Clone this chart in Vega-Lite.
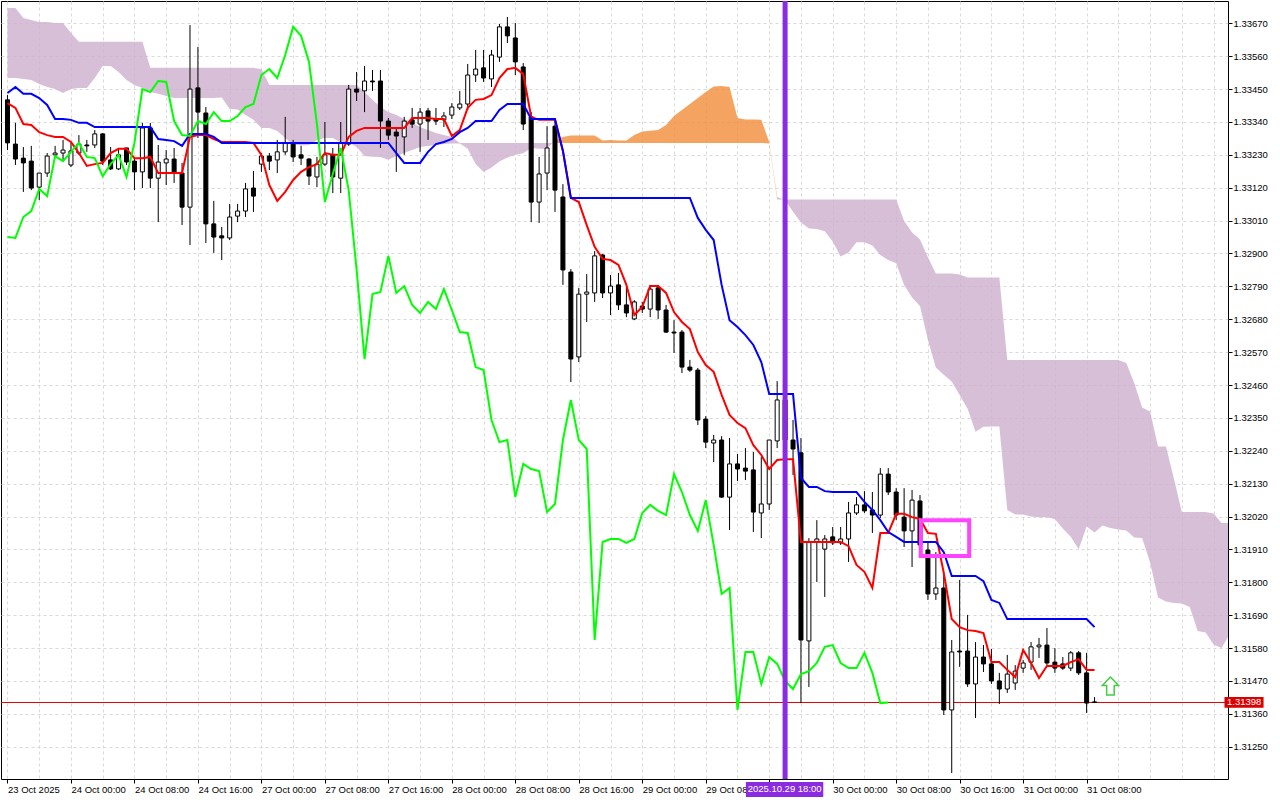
{
"$schema": "https://vega.github.io/schema/vega-lite/v6.json",
"width": 1227, "height": 778,
"autosize": "none",
"padding": {"left": 1, "top": 1, "right": 52, "bottom": 21},
"background": "#ffffff",
"config": {"view": {"stroke": "#000000", "strokeWidth": 1}, "axis": {"labelOverlap": false, "labelFlush": false, "labelBound": false}},
"datasets": {
"bars": [
{"k":-8,"o":1.33414,"h":1.33430,"l":1.33246,"c":1.33270,"t":1.33403,"kj":1.33437,"ch":1.32955},
{"k":-7,"o":1.33266,"h":1.33337,"l":1.33196,"c":1.33216,"t":1.33387,"kj":1.33457,"ch":1.32952},
{"k":-6,"o":1.33219,"h":1.33256,"l":1.33106,"c":1.33203,"t":1.33333,"kj":1.33434,"ch":1.33022},
{"k":-5,"o":1.33209,"h":1.33260,"l":1.33112,"c":1.33119,"t":1.33330,"kj":1.33434,"ch":1.33042},
{"k":-4,"o":1.33122,"h":1.33169,"l":1.33079,"c":1.33169,"t":1.33306,"kj":1.33420,"ch":1.33116},
{"k":-3,"o":1.33169,"h":1.33236,"l":1.33156,"c":1.33226,"t":1.33296,"kj":1.33397,"ch":1.33092},
{"k":-2,"o":1.33230,"h":1.33260,"l":1.33219,"c":1.33236,"t":1.33290,"kj":1.33350,"ch":1.33226},
{"k":-1,"o":1.33236,"h":1.33280,"l":1.33213,"c":1.33246,"t":1.33290,"kj":1.33350,"ch":1.33209},
{"k":0,"o":1.33196,"h":1.33270,"l":1.33189,"c":1.33243,"t":1.33273,"kj":1.33347,"ch":1.33240},
{"k":1,"o":1.33236,"h":1.33296,"l":1.33230,"c":1.33266,"t":1.33236,"kj":1.33337,"ch":1.33270},
{"k":2,"o":1.33263,"h":1.33280,"l":1.33240,"c":1.33260,"t":1.33193,"kj":1.33337,"ch":1.33223},
{"k":3,"o":1.33263,"h":1.33313,"l":1.33253,"c":1.33300,"t":1.33199,"kj":1.33323,"ch":1.33219},
{"k":4,"o":1.33300,"h":1.33303,"l":1.33196,"c":1.33209,"t":1.33203,"kj":1.33323,"ch":1.33159},
{"k":5,"o":1.33213,"h":1.33256,"l":1.33179,"c":1.33183,"t":1.33236,"kj":1.33323,"ch":1.33199},
{"k":6,"o":1.33183,"h":1.33253,"l":1.33179,"c":1.33230,"t":1.33250,"kj":1.33323,"ch":1.33230},
{"k":7,"o":1.33253,"h":1.33253,"l":1.33196,"c":1.33206,"t":1.33250,"kj":1.33323,"ch":1.33156},
{"k":8,"o":1.33209,"h":1.33223,"l":1.33112,"c":1.33173,"t":1.33219,"kj":1.33323,"ch":1.33270},
{"k":9,"o":1.33173,"h":1.33337,"l":1.33119,"c":1.33320,"t":1.33219,"kj":1.33323,"ch":1.33450},
{"k":10,"o":1.33320,"h":1.33337,"l":1.33119,"c":1.33152,"t":1.33223,"kj":1.33323,"ch":1.33440},
{"k":11,"o":1.33152,"h":1.33263,"l":1.33005,"c":1.33206,"t":1.33169,"kj":1.33283,"ch":1.33477},
{"k":12,"o":1.33203,"h":1.33246,"l":1.33129,"c":1.33216,"t":1.33169,"kj":1.33280,"ch":1.33474},
{"k":13,"o":1.33216,"h":1.33253,"l":1.33136,"c":1.33169,"t":1.33169,"kj":1.33276,"ch":1.33343},
{"k":14,"o":1.33169,"h":1.33203,"l":1.32995,"c":1.33055,"t":1.33169,"kj":1.33260,"ch":1.33296},
{"k":15,"o":1.33055,"h":1.33664,"l":1.32928,"c":1.33450,"t":1.33290,"kj":1.33300,"ch":1.33293},
{"k":16,"o":1.33454,"h":1.33591,"l":1.33286,"c":1.33373,"t":1.33296,"kj":1.33300,"ch":1.33343},
{"k":17,"o":1.33370,"h":1.33390,"l":1.32935,"c":1.32999,"t":1.33296,"kj":1.33300,"ch":1.33333},
{"k":18,"o":1.32999,"h":1.33076,"l":1.32902,"c":1.32955,"t":1.33283,"kj":1.33290,"ch":1.33373},
{"k":19,"o":1.32959,"h":1.32989,"l":1.32878,"c":1.32952,"t":1.33273,"kj":1.33270,"ch":1.33343},
{"k":20,"o":1.32952,"h":1.33066,"l":1.32945,"c":1.33022,"t":1.33273,"kj":1.33270,"ch":1.33343},
{"k":21,"o":1.33025,"h":1.33066,"l":1.33005,"c":1.33042,"t":1.33273,"kj":1.33270,"ch":1.33360},
{"k":22,"o":1.33042,"h":1.33136,"l":1.33022,"c":1.33116,"t":1.33273,"kj":1.33270,"ch":1.33390},
{"k":23,"o":1.33119,"h":1.33176,"l":1.33039,"c":1.33092,"t":1.33270,"kj":1.33270,"ch":1.33400},
{"k":24,"o":1.33199,"h":1.33236,"l":1.33173,"c":1.33226,"t":1.33230,"kj":1.33270,"ch":1.33497},
{"k":25,"o":1.33226,"h":1.33236,"l":1.33179,"c":1.33209,"t":1.33129,"kj":1.33270,"ch":1.33517},
{"k":26,"o":1.33213,"h":1.33280,"l":1.33169,"c":1.33240,"t":1.33076,"kj":1.33270,"ch":1.33487},
{"k":27,"o":1.33240,"h":1.33357,"l":1.33230,"c":1.33270,"t":1.33106,"kj":1.33270,"ch":1.33564},
{"k":28,"o":1.33266,"h":1.33280,"l":1.33206,"c":1.33223,"t":1.33146,"kj":1.33270,"ch":1.33658},
{"k":29,"o":1.33230,"h":1.33260,"l":1.33196,"c":1.33219,"t":1.33173,"kj":1.33270,"ch":1.33628},
{"k":30,"o":1.33216,"h":1.33219,"l":1.33129,"c":1.33159,"t":1.33189,"kj":1.33270,"ch":1.33541},
{"k":31,"o":1.33156,"h":1.33223,"l":1.33122,"c":1.33199,"t":1.33199,"kj":1.33270,"ch":1.33333},
{"k":32,"o":1.33199,"h":1.33340,"l":1.33193,"c":1.33230,"t":1.33236,"kj":1.33270,"ch":1.33072},
{"k":33,"o":1.33230,"h":1.33253,"l":1.33102,"c":1.33156,"t":1.33230,"kj":1.33270,"ch":1.33166},
{"k":34,"o":1.33152,"h":1.33340,"l":1.33102,"c":1.33270,"t":1.33230,"kj":1.33270,"ch":1.33253},
{"k":35,"o":1.33266,"h":1.33464,"l":1.33260,"c":1.33450,"t":1.33290,"kj":1.33270,"ch":1.33112},
{"k":36,"o":1.33450,"h":1.33507,"l":1.33410,"c":1.33440,"t":1.33310,"kj":1.33270,"ch":1.32845},
{"k":37,"o":1.33444,"h":1.33527,"l":1.33373,"c":1.33477,"t":1.33320,"kj":1.33270,"ch":1.32547},
{"k":38,"o":1.33477,"h":1.33514,"l":1.33444,"c":1.33474,"t":1.33320,"kj":1.33270,"ch":1.32764},
{"k":39,"o":1.33477,"h":1.33514,"l":1.33253,"c":1.33343,"t":1.33320,"kj":1.33270,"ch":1.32771},
{"k":40,"o":1.33343,"h":1.33353,"l":1.33280,"c":1.33296,"t":1.33320,"kj":1.33270,"ch":1.32892},
{"k":41,"o":1.33306,"h":1.33323,"l":1.33173,"c":1.33293,"t":1.33320,"kj":1.33236,"ch":1.32768},
{"k":42,"o":1.33290,"h":1.33357,"l":1.33230,"c":1.33343,"t":1.33320,"kj":1.33203,"ch":1.32791},
{"k":43,"o":1.33347,"h":1.33387,"l":1.33320,"c":1.33333,"t":1.33353,"kj":1.33203,"ch":1.32728},
{"k":44,"o":1.33333,"h":1.33387,"l":1.33240,"c":1.33373,"t":1.33353,"kj":1.33203,"ch":1.32701},
{"k":45,"o":1.33377,"h":1.33387,"l":1.33280,"c":1.33343,"t":1.33353,"kj":1.33240,"ch":1.32738},
{"k":46,"o":1.33350,"h":1.33387,"l":1.33330,"c":1.33343,"t":1.33350,"kj":1.33266,"ch":1.32714},
{"k":47,"o":1.33347,"h":1.33373,"l":1.33323,"c":1.33360,"t":1.33350,"kj":1.33273,"ch":1.32781},
{"k":48,"o":1.33363,"h":1.33403,"l":1.33350,"c":1.33390,"t":1.33293,"kj":1.33283,"ch":1.32711},
{"k":49,"o":1.33387,"h":1.33444,"l":1.33380,"c":1.33400,"t":1.33313,"kj":1.33306,"ch":1.32637},
{"k":50,"o":1.33400,"h":1.33534,"l":1.33380,"c":1.33497,"t":1.33387,"kj":1.33320,"ch":1.32634},
{"k":51,"o":1.33497,"h":1.33581,"l":1.33474,"c":1.33517,"t":1.33414,"kj":1.33343,"ch":1.32520},
{"k":52,"o":1.33521,"h":1.33581,"l":1.33474,"c":1.33487,"t":1.33417,"kj":1.33343,"ch":1.32510},
{"k":53,"o":1.33484,"h":1.33581,"l":1.33457,"c":1.33564,"t":1.33430,"kj":1.33343,"ch":1.32343},
{"k":54,"o":1.33557,"h":1.33668,"l":1.33541,"c":1.33658,"t":1.33487,"kj":1.33380,"ch":1.32269},
{"k":55,"o":1.33658,"h":1.33691,"l":1.33604,"c":1.33628,"t":1.33517,"kj":1.33400,"ch":1.32276},
{"k":56,"o":1.33621,"h":1.33671,"l":1.33497,"c":1.33541,"t":1.33521,"kj":1.33400,"ch":1.32085},
{"k":57,"o":1.33524,"h":1.33537,"l":1.33313,"c":1.33333,"t":1.33500,"kj":1.33400,"ch":1.32196},
{"k":58,"o":1.33357,"h":1.33373,"l":1.33005,"c":1.33072,"t":1.33357,"kj":1.33350,"ch":1.32179},
{"k":59,"o":1.33072,"h":1.33223,"l":1.33002,"c":1.33166,"t":1.33347,"kj":1.33350,"ch":1.32172},
{"k":60,"o":1.33169,"h":1.33326,"l":1.33112,"c":1.33253,"t":1.33347,"kj":1.33350,"ch":1.32035},
{"k":61,"o":1.33326,"h":1.33347,"l":1.33039,"c":1.33112,"t":1.33347,"kj":1.33350,"ch":1.32062},
{"k":62,"o":1.33089,"h":1.33132,"l":1.32795,"c":1.32845,"t":1.33243,"kj":1.33243,"ch":1.32276},
{"k":63,"o":1.32838,"h":1.32848,"l":1.32470,"c":1.32547,"t":1.33086,"kj":1.33086,"ch":1.32410},
{"k":64,"o":1.32554,"h":1.32785,"l":1.32537,"c":1.32764,"t":1.33072,"kj":1.33086,"ch":1.32276},
{"k":65,"o":1.32764,"h":1.32831,"l":1.32671,"c":1.32771,"t":1.32995,"kj":1.33086,"ch":1.32246},
{"k":66,"o":1.32768,"h":1.32908,"l":1.32738,"c":1.32892,"t":1.32922,"kj":1.33086,"ch":1.31607},
{"k":67,"o":1.32895,"h":1.32898,"l":1.32751,"c":1.32768,"t":1.32882,"kj":1.33086,"ch":1.31935},
{"k":68,"o":1.32768,"h":1.32828,"l":1.32694,"c":1.32791,"t":1.32878,"kj":1.33086,"ch":1.31945},
{"k":69,"o":1.32795,"h":1.32835,"l":1.32711,"c":1.32728,"t":1.32862,"kj":1.33086,"ch":1.31945},
{"k":70,"o":1.32728,"h":1.32788,"l":1.32687,"c":1.32701,"t":1.32795,"kj":1.33086,"ch":1.31932},
{"k":71,"o":1.32681,"h":1.32744,"l":1.32677,"c":1.32738,"t":1.32694,"kj":1.33086,"ch":1.31945},
{"k":72,"o":1.32724,"h":1.32738,"l":1.32701,"c":1.32714,"t":1.32721,"kj":1.33086,"ch":1.32032},
{"k":73,"o":1.32714,"h":1.32795,"l":1.32687,"c":1.32781,"t":1.32791,"kj":1.33086,"ch":1.32059},
{"k":74,"o":1.32785,"h":1.32795,"l":1.32681,"c":1.32711,"t":1.32791,"kj":1.33086,"ch":1.32039},
{"k":75,"o":1.32711,"h":1.32728,"l":1.32634,"c":1.32637,"t":1.32768,"kj":1.33086,"ch":1.32025},
{"k":76,"o":1.32637,"h":1.32677,"l":1.32567,"c":1.32634,"t":1.32704,"kj":1.33086,"ch":1.32162},
{"k":77,"o":1.32637,"h":1.32644,"l":1.32500,"c":1.32520,"t":1.32671,"kj":1.33086,"ch":1.32102},
{"k":78,"o":1.32520,"h":1.32544,"l":1.32504,"c":1.32510,"t":1.32647,"kj":1.33086,"ch":1.32025},
{"k":79,"o":1.32510,"h":1.32517,"l":1.32326,"c":1.32343,"t":1.32570,"kj":1.33019,"ch":1.31972},
{"k":80,"o":1.32346,"h":1.32356,"l":1.32249,"c":1.32269,"t":1.32527,"kj":1.32979,"ch":1.32075},
{"k":81,"o":1.32266,"h":1.32293,"l":1.32202,"c":1.32276,"t":1.32504,"kj":1.32945,"ch":1.31925},
{"k":82,"o":1.32276,"h":1.32289,"l":1.32082,"c":1.32085,"t":1.32427,"kj":1.32795,"ch":1.31761},
{"k":83,"o":1.32085,"h":1.32283,"l":1.31975,"c":1.32196,"t":1.32360,"kj":1.32677,"ch":1.31781},
{"k":84,"o":1.32196,"h":1.32229,"l":1.32139,"c":1.32179,"t":1.32333,"kj":1.32654,"ch":1.31373},
{"k":85,"o":1.32182,"h":1.32249,"l":1.32142,"c":1.32172,"t":1.32316,"kj":1.32627,"ch":1.31567},
{"k":86,"o":1.32176,"h":1.32236,"l":1.31968,"c":1.32035,"t":1.32259,"kj":1.32594,"ch":1.31567},
{"k":87,"o":1.32032,"h":1.32219,"l":1.31948,"c":1.32062,"t":1.32226,"kj":1.32537,"ch":1.31460},
{"k":88,"o":1.32062,"h":1.32276,"l":1.32042,"c":1.32276,"t":1.32179,"kj":1.32430,"ch":1.31550},
{"k":89,"o":1.32273,"h":1.32473,"l":1.32249,"c":1.32410,"t":1.32209,"kj":1.32430,"ch":1.31527},
{"k":90,"o":1.32410,"h":1.32427,"l":1.32243,"c":1.32276,"t":1.32212,"kj":1.32430,"ch":1.31470},
{"k":91,"o":1.32276,"h":1.32343,"l":1.32159,"c":1.32246,"t":1.32212,"kj":1.32430,"ch":1.31443},
{"k":92,"o":1.32233,"h":1.32283,"l":1.31396,"c":1.31607,"t":1.31935,"kj":1.32149,"ch":1.31493},
{"k":93,"o":1.31604,"h":1.31948,"l":1.31450,"c":1.31935,"t":1.31935,"kj":1.32119,"ch":1.31503},
{"k":94,"o":1.31935,"h":1.32008,"l":1.31801,"c":1.31945,"t":1.31935,"kj":1.32119,"ch":1.31530},
{"k":95,"o":1.31911,"h":1.31958,"l":1.31751,"c":1.31945,"t":1.31935,"kj":1.32105,"ch":1.31584},
{"k":96,"o":1.31952,"h":1.31985,"l":1.31925,"c":1.31932,"t":1.31935,"kj":1.32102,"ch":1.31590},
{"k":97,"o":1.31932,"h":1.31985,"l":1.31925,"c":1.31945,"t":1.31935,"kj":1.32102,"ch":1.31530},
{"k":98,"o":1.31945,"h":1.32069,"l":1.31868,"c":1.32032,"t":1.31921,"kj":1.32102,"ch":1.31513},
{"k":99,"o":1.32032,"h":1.32085,"l":1.32025,"c":1.32059,"t":1.31858,"kj":1.32102,"ch":1.31513},
{"k":100,"o":1.32059,"h":1.32105,"l":1.32032,"c":1.32039,"t":1.31835,"kj":1.32069,"ch":1.31564},
{"k":101,"o":1.32042,"h":1.32102,"l":1.31965,"c":1.32025,"t":1.31781,"kj":1.32042,"ch":1.31497},
{"k":102,"o":1.32025,"h":1.32182,"l":1.32015,"c":1.32162,"t":1.31965,"kj":1.32008,"ch":1.31396},
{"k":103,"o":1.32162,"h":1.32182,"l":1.32092,"c":1.32102,"t":1.31965,"kj":1.31968,"ch":1.31398},
{"k":104,"o":1.32102,"h":1.32115,"l":1.32008,"c":1.32025,"t":1.32029,"kj":1.31952},
{"k":105,"o":1.32018,"h":1.32115,"l":1.31918,"c":1.31972,"t":1.32029,"kj":1.31935},
{"k":106,"o":1.31972,"h":1.32109,"l":1.31851,"c":1.32075,"t":1.32018,"kj":1.31935},
{"k":107,"o":1.32072,"h":1.32092,"l":1.31901,"c":1.31925,"t":1.32012,"kj":1.31935},
{"k":108,"o":1.31908,"h":1.31932,"l":1.31741,"c":1.31761,"t":1.31965,"kj":1.31935},
{"k":109,"o":1.31761,"h":1.31901,"l":1.31741,"c":1.31781,"t":1.31962,"kj":1.31935},
{"k":110,"o":1.31781,"h":1.31824,"l":1.31356,"c":1.31373,"t":1.31831,"kj":1.31901},
{"k":111,"o":1.31373,"h":1.31607,"l":1.31162,"c":1.31567,"t":1.31677,"kj":1.31821},
{"k":112,"o":1.31570,"h":1.31808,"l":1.31517,"c":1.31567,"t":1.31650,"kj":1.31821},
{"k":113,"o":1.31570,"h":1.31691,"l":1.31450,"c":1.31460,"t":1.31640,"kj":1.31821},
{"k":114,"o":1.31460,"h":1.31600,"l":1.31346,"c":1.31550,"t":1.31637,"kj":1.31821},
{"k":115,"o":1.31550,"h":1.31590,"l":1.31500,"c":1.31527,"t":1.31630,"kj":1.31804},
{"k":116,"o":1.31527,"h":1.31577,"l":1.31460,"c":1.31470,"t":1.31533,"kj":1.31741},
{"k":117,"o":1.31470,"h":1.31497,"l":1.31393,"c":1.31443,"t":1.31533,"kj":1.31731},
{"k":118,"o":1.31443,"h":1.31557,"l":1.31430,"c":1.31493,"t":1.31507,"kj":1.31677},
{"k":119,"o":1.31463,"h":1.31523,"l":1.31440,"c":1.31503,"t":1.31483,"kj":1.31677},
{"k":120,"o":1.31513,"h":1.31540,"l":1.31497,"c":1.31530,"t":1.31574,"kj":1.31677},
{"k":121,"o":1.31533,"h":1.31600,"l":1.31507,"c":1.31584,"t":1.31530,"kj":1.31677},
{"k":122,"o":1.31584,"h":1.31614,"l":1.31547,"c":1.31590,"t":1.31480,"kj":1.31677},
{"k":123,"o":1.31590,"h":1.31647,"l":1.31523,"c":1.31530,"t":1.31520,"kj":1.31677},
{"k":124,"o":1.31533,"h":1.31580,"l":1.31497,"c":1.31513,"t":1.31520,"kj":1.31677},
{"k":125,"o":1.31527,"h":1.31550,"l":1.31507,"c":1.31513,"t":1.31520,"kj":1.31677},
{"k":126,"o":1.31513,"h":1.31570,"l":1.31503,"c":1.31564,"t":1.31533,"kj":1.31677},
{"k":127,"o":1.31564,"h":1.31570,"l":1.31490,"c":1.31497,"t":1.31543,"kj":1.31677},
{"k":128,"o":1.31497,"h":1.31564,"l":1.31363,"c":1.31396,"t":1.31507,"kj":1.31677},
{"k":129,"o":1.31400,"h":1.31416,"l":1.31396,"c":1.31398,"t":1.31507,"kj":1.31650}
],
"cloud": [
{"k":-8,"b":1.33721,"a":1.33487,"phase":"p1"},
{"k":-7,"b":1.33721,"a":1.33487,"phase":"p1"},
{"k":-6,"b":1.33688,"a":1.33484,"phase":"p1"},
{"k":-5,"b":1.33681,"a":1.33480,"phase":"p1"},
{"k":-4,"b":1.33674,"a":1.33467,"phase":"p1"},
{"k":-3,"b":1.33674,"a":1.33457,"phase":"p1"},
{"k":-2,"b":1.33671,"a":1.33450,"phase":"p1"},
{"k":-1,"b":1.33671,"a":1.33437,"phase":"p1"},
{"k":0,"b":1.33638,"a":1.33450,"phase":"p1"},
{"k":1,"b":1.33608,"a":1.33454,"phase":"p1"},
{"k":2,"b":1.33608,"a":1.33454,"phase":"p1"},
{"k":3,"b":1.33608,"a":1.33487,"phase":"p1"},
{"k":4,"b":1.33608,"a":1.33527,"phase":"p1"},
{"k":5,"b":1.33608,"a":1.33527,"phase":"p1"},
{"k":6,"b":1.33608,"a":1.33507,"phase":"p1"},
{"k":7,"b":1.33608,"a":1.33480,"phase":"p1"},
{"k":8,"b":1.33608,"a":1.33464,"phase":"p1"},
{"k":9,"b":1.33608,"a":1.33454,"phase":"p1"},
{"k":10,"b":1.33521,"a":1.33440,"phase":"p1"},
{"k":11,"b":1.33521,"a":1.33434,"phase":"p1"},
{"k":12,"b":1.33521,"a":1.33427,"phase":"p1"},
{"k":13,"b":1.33521,"a":1.33420,"phase":"p1"},
{"k":14,"b":1.33521,"a":1.33420,"phase":"p1"},
{"k":15,"b":1.33521,"a":1.33420,"phase":"p1"},
{"k":16,"b":1.33521,"a":1.33420,"phase":"p1"},
{"k":17,"b":1.33521,"a":1.33420,"phase":"p1"},
{"k":18,"b":1.33521,"a":1.33420,"phase":"p1"},
{"k":19,"b":1.33521,"a":1.33422,"phase":"p1"},
{"k":20,"b":1.33521,"a":1.33383,"phase":"p1"},
{"k":21,"b":1.33521,"a":1.33382,"phase":"p1"},
{"k":22,"b":1.33521,"a":1.33363,"phase":"p1"},
{"k":23,"b":1.33521,"a":1.33347,"phase":"p1"},
{"k":24,"b":1.33517,"a":1.33320,"phase":"p1"},
{"k":25,"b":1.33464,"a":1.33320,"phase":"p1"},
{"k":26,"b":1.33464,"a":1.33310,"phase":"p1"},
{"k":27,"b":1.33464,"a":1.33286,"phase":"p1"},
{"k":28,"b":1.33464,"a":1.33265,"phase":"p1"},
{"k":29,"b":1.33464,"a":1.33261,"phase":"p1"},
{"k":30,"b":1.33464,"a":1.33263,"phase":"p1"},
{"k":31,"b":1.33464,"a":1.33280,"phase":"p1"},
{"k":32,"b":1.33464,"a":1.33286,"phase":"p1"},
{"k":33,"b":1.33464,"a":1.33286,"phase":"p1"},
{"k":34,"b":1.33464,"a":1.33271,"phase":"p1"},
{"k":35,"b":1.33464,"a":1.33271,"phase":"p1"},
{"k":36,"b":1.33464,"a":1.33256,"phase":"p1"},
{"k":37,"b":1.33440,"a":1.33226,"phase":"p1"},
{"k":38,"b":1.33414,"a":1.33224,"phase":"p1"},
{"k":39,"b":1.33390,"a":1.33223,"phase":"p1"},
{"k":40,"b":1.33373,"a":1.33214,"phase":"p1"},
{"k":41,"b":1.33363,"a":1.33226,"phase":"p1"},
{"k":42,"b":1.33350,"a":1.33236,"phase":"p1"},
{"k":43,"b":1.33337,"a":1.33246,"phase":"p1"},
{"k":44,"b":1.33323,"a":1.33256,"phase":"p1"},
{"k":45,"b":1.33313,"a":1.33260,"phase":"p1"},
{"k":46,"b":1.33303,"a":1.33263,"phase":"p1"},
{"k":47,"b":1.33296,"a":1.33266,"phase":"p1"},
{"k":48,"b":1.33290,"a":1.33268,"phase":"p1"},
{"k":49,"b":1.33270,"a":1.33268,"phase":"p1"},
{"k":50,"b":1.33270,"a":1.33250,"phase":"p1"},
{"k":51,"b":1.33270,"a":1.33199,"phase":"p1"},
{"k":52,"b":1.33270,"a":1.33173,"phase":"p1"},
{"k":53,"b":1.33270,"a":1.33188,"phase":"p1"},
{"k":54,"b":1.33270,"a":1.33208,"phase":"p1"},
{"k":55,"b":1.33270,"a":1.33221,"phase":"p1"},
{"k":56,"b":1.33270,"a":1.33230,"phase":"p1"},
{"k":57,"b":1.33270,"a":1.33235,"phase":"p1"},
{"k":58,"b":1.33270,"a":1.33253,"phase":"p1"},
{"k":59,"b":1.33270,"a":1.33250,"phase":"p1"},
{"k":60,"b":1.33270,"a":1.33250,"phase":"p1"},
{"k":61,"b":1.33270,"a":1.33280,"phase":"p1"},
{"k":61,"b":1.33270,"a":1.33280,"phase":"p2"},
{"k":62,"b":1.33270,"a":1.33290,"phase":"p2"},
{"k":63,"b":1.33270,"a":1.33295,"phase":"p2"},
{"k":64,"b":1.33270,"a":1.33295,"phase":"p2"},
{"k":65,"b":1.33270,"a":1.33295,"phase":"p2"},
{"k":66,"b":1.33270,"a":1.33295,"phase":"p2"},
{"k":67,"b":1.33270,"a":1.33278,"phase":"p2"},
{"k":68,"b":1.33270,"a":1.33280,"phase":"p2"},
{"k":69,"b":1.33270,"a":1.33278,"phase":"p2"},
{"k":70,"b":1.33270,"a":1.33278,"phase":"p2"},
{"k":71,"b":1.33270,"a":1.33296,"phase":"p2"},
{"k":72,"b":1.33270,"a":1.33308,"phase":"p2"},
{"k":73,"b":1.33270,"a":1.33311,"phase":"p2"},
{"k":74,"b":1.33270,"a":1.33313,"phase":"p2"},
{"k":75,"b":1.33270,"a":1.33330,"phase":"p2"},
{"k":76,"b":1.33270,"a":1.33360,"phase":"p2"},
{"k":77,"b":1.33270,"a":1.33380,"phase":"p2"},
{"k":78,"b":1.33270,"a":1.33400,"phase":"p2"},
{"k":79,"b":1.33270,"a":1.33420,"phase":"p2"},
{"k":80,"b":1.33270,"a":1.33440,"phase":"p2"},
{"k":81,"b":1.33270,"a":1.33459,"phase":"p2"},
{"k":82,"b":1.33270,"a":1.33460,"phase":"p2"},
{"k":83,"b":1.33270,"a":1.33457,"phase":"p2"},
{"k":84,"b":1.33270,"a":1.33353,"phase":"p2"},
{"k":85,"b":1.33270,"a":1.33348,"phase":"p2"},
{"k":86,"b":1.33270,"a":1.33348,"phase":"p2"},
{"k":87,"b":1.33270,"a":1.33347,"phase":"p2"},
{"k":88,"b":1.33268,"a":1.33272,"phase":"p2"},
{"k":89,"b":1.33081,"a":1.33089,"phase":"p2"},
{"k":89,"b":1.33081,"a":1.33089,"phase":"p3"},
{"k":90,"b":1.33081,"a":1.33079,"phase":"p3"},
{"k":91,"b":1.33081,"a":1.33040,"phase":"p3"},
{"k":92,"b":1.33081,"a":1.33004,"phase":"p3"},
{"k":93,"b":1.33081,"a":1.32984,"phase":"p3"},
{"k":94,"b":1.33081,"a":1.32982,"phase":"p3"},
{"k":95,"b":1.33081,"a":1.32974,"phase":"p3"},
{"k":96,"b":1.33081,"a":1.32940,"phase":"p3"},
{"k":97,"b":1.33081,"a":1.32890,"phase":"p3"},
{"k":98,"b":1.33081,"a":1.32903,"phase":"p3"},
{"k":99,"b":1.33081,"a":1.32938,"phase":"p3"},
{"k":100,"b":1.33081,"a":1.32938,"phase":"p3"},
{"k":101,"b":1.33081,"a":1.32927,"phase":"p3"},
{"k":102,"b":1.33081,"a":1.32895,"phase":"p3"},
{"k":103,"b":1.33081,"a":1.32878,"phase":"p3"},
{"k":104,"b":1.33081,"a":1.32867,"phase":"p3"},
{"k":105,"b":1.33009,"a":1.32795,"phase":"p3"},
{"k":106,"b":1.32970,"a":1.32753,"phase":"p3"},
{"k":107,"b":1.32947,"a":1.32724,"phase":"p3"},
{"k":108,"b":1.32887,"a":1.32611,"phase":"p3"},
{"k":109,"b":1.32833,"a":1.32519,"phase":"p3"},
{"k":110,"b":1.32833,"a":1.32494,"phase":"p3"},
{"k":111,"b":1.32833,"a":1.32472,"phase":"p3"},
{"k":112,"b":1.32830,"a":1.32427,"phase":"p3"},
{"k":113,"b":1.32820,"a":1.32381,"phase":"p3"},
{"k":114,"b":1.32820,"a":1.32304,"phase":"p3"},
{"k":115,"b":1.32820,"a":1.32320,"phase":"p3"},
{"k":116,"b":1.32820,"a":1.32321,"phase":"p3"},
{"k":117,"b":1.32820,"a":1.32321,"phase":"p3"},
{"k":118,"b":1.32544,"a":1.32042,"phase":"p3"},
{"k":119,"b":1.32544,"a":1.32027,"phase":"p3"},
{"k":120,"b":1.32544,"a":1.32027,"phase":"p3"},
{"k":121,"b":1.32544,"a":1.32020,"phase":"p3"},
{"k":122,"b":1.32544,"a":1.32018,"phase":"p3"},
{"k":123,"b":1.32544,"a":1.32018,"phase":"p3"},
{"k":124,"b":1.32544,"a":1.32012,"phase":"p3"},
{"k":125,"b":1.32544,"a":1.31980,"phase":"p3"},
{"k":126,"b":1.32544,"a":1.31952,"phase":"p3"},
{"k":127,"b":1.32544,"a":1.31911,"phase":"p3"},
{"k":128,"b":1.32544,"a":1.31987,"phase":"p3"},
{"k":129,"b":1.32544,"a":1.31967,"phase":"p3"},
{"k":130,"b":1.32544,"a":1.31990,"phase":"p3"},
{"k":131,"b":1.32544,"a":1.31982,"phase":"p3"},
{"k":132,"b":1.32544,"a":1.31977,"phase":"p3"},
{"k":133,"b":1.32534,"a":1.31973,"phase":"p3"},
{"k":134,"b":1.32467,"a":1.31950,"phase":"p3"},
{"k":135,"b":1.32385,"a":1.31948,"phase":"p3"},
{"k":136,"b":1.32371,"a":1.31866,"phase":"p3"},
{"k":137,"b":1.32254,"a":1.31749,"phase":"p3"},
{"k":138,"b":1.32254,"a":1.31736,"phase":"p3"},
{"k":139,"b":1.32147,"a":1.31731,"phase":"p3"},
{"k":140,"b":1.32035,"a":1.31729,"phase":"p3"},
{"k":141,"b":1.32035,"a":1.31717,"phase":"p3"},
{"k":142,"b":1.32035,"a":1.31637,"phase":"p3"},
{"k":143,"b":1.32035,"a":1.31632,"phase":"p3"},
{"k":144,"b":1.32030,"a":1.31592,"phase":"p3"},
{"k":145,"b":1.31998,"a":1.31580,"phase":"p3"},
{"k":146,"b":1.31998,"a":1.31625,"phase":"p3"}
]
},
"layer": [
{
"data": {"name": "cloud"},
"mark": {"type": "area", "clip": true, "fillOpacity": 0.8, "interpolate": "linear"},
"encoding": {
"x": {"field": "k", "type": "quantitative", "title": null,
 "scale": {"domain": [-8.1875, 145.1875], "nice": false, "zero": false},
 "axis": {"orient": "bottom", "values": [-8,-4,0,4,8,12,16,20,24,28,32,36,40,44,48,52,56,60,64,68,72,76,80,84,88,92,96,100,104,108,112,116,120,124,128,132,136,140,144],
  "tickCount": 200,
  "domain": false, "grid": true, "gridDash": [3,3], "gridColor": "#d9d9d9", "gridWidth": 1,
  "ticks": true, "tickSize": 4, "tickColor": "#000000", "tickWidth": 1,
  "tickOpacity": {"condition": {"test": "datum.value % 8 === 0 && datum.value <= 128", "value": 1}, "value": 0},
  "labelExpr": "(datum.value % 8 === 0 && datum.value <= 128) ? ['23 Oct 2025','24 Oct 00:00','24 Oct 08:00','24 Oct 16:00','27 Oct 00:00','27 Oct 08:00','27 Oct 16:00','28 Oct 00:00','28 Oct 08:00','28 Oct 16:00','29 Oct 00:00','29 Oct 08','','30 Oct 00:00','30 Oct 08:00','30 Oct 16:00','31 Oct 00:00','31 Oct 08:00'][(datum.value + 8) / 8] : ''",
  "labelAlign": "left", "labelBaseline": "top", "labelPadding": 1, "labelOffset": 0,
  "labelFont": "Liberation Sans", "labelFontSize": 9.5, "labelColor": "#000000",
  "labelOverlap": false, "labelFlush": false, "labelBound": false, "title": null}},
"y": {"field": "a", "type": "quantitative", "title": null, "stack": null,
 "scale": {"domain": [1.31142, 1.3374465], "nice": false, "zero": false},
 "axis": {"orient": "right", "values": [1.3125,1.3136,1.3147,1.3158,1.3169,1.318,1.3191,1.3202,1.3213,1.3224,1.3235,1.3246,1.3257,1.3268,1.3279,1.329,1.3301,1.3312,1.3323,1.3334,1.3345,1.3356,1.3367],
  "tickCount": 200,
  "format": ".5f", "domain": false, "grid": true, "gridDash": [3,3], "gridColor": "#d9d9d9",
  "tickSize": 4, "tickColor": "#000000", "labelPadding": 1,
  "labelFont": "Liberation Sans", "labelFontSize": 9.5, "labelColor": "#000000",
  "labelOverlap": false, "labelFlush": false, "labelBound": false, "title": null}},
"y2": {"field": "b"},
"color": {"field": "phase", "type": "nominal", "legend": null,
 "scale": {"domain": ["p1","p2","p3"], "range": ["#ceafce","#f18d38","#ceafce"]}}
}
},
{
"data": {"values": [{}]},
"mark": {"type": "rule", "color": "#e00000", "strokeWidth": 1},
"encoding": {"y": {"datum": 1.31398, "type": "quantitative", "title": null}}
},
{
"data": {"name": "bars"},
"mark": {"type": "rule", "color": "#000000", "strokeWidth": 1},
"encoding": {
"x": {"field": "k", "type": "quantitative", "title": null},
"y": {"field": "l", "type": "quantitative", "title": null},
"y2": {"field": "h"}
}
},
{
"data": {"name": "bars"},
"mark": {"type": "bar", "width": 4, "stroke": "#000000", "strokeWidth": 1},
"encoding": {
"x": {"field": "k", "type": "quantitative", "title": null},
"y": {"field": "o", "type": "quantitative", "title": null},
"y2": {"field": "c"},
"fill": {"condition": {"test": "datum.c < datum.o", "value": "#000000"}, "value": "#ffffff"}
}
},
{
"data": {"name": "bars"},
"mark": {"type": "line", "color": "#ff0000", "strokeWidth": 2},
"encoding": {
"x": {"field": "k", "type": "quantitative", "title": null},
"y": {"field": "t", "type": "quantitative", "title": null}
}
},
{
"data": {"name": "bars"},
"mark": {"type": "line", "color": "#0000ff", "strokeWidth": 2},
"encoding": {
"x": {"field": "k", "type": "quantitative", "title": null},
"y": {"field": "kj", "type": "quantitative", "title": null}
}
},
{
"data": {"name": "bars"},
"mark": {"type": "line", "color": "#00ff00", "strokeWidth": 2},
"encoding": {
"x": {"field": "k", "type": "quantitative", "title": null},
"y": {"field": "ch", "type": "quantitative", "title": null}
}
},
{
"data": {"values": [{}]},
"mark": {"type": "rect", "fill": null, "fillOpacity": 0, "stroke": "#ff44ff", "strokeWidth": 4},
"encoding": {
"x": {"datum": 107.1, "type": "quantitative", "title": null},
"x2": {"datum": 113.2},
"y": {"datum": 1.32008, "type": "quantitative", "title": null},
"y2": {"datum": 1.31888}
}
},
{
"data": {"values": [{}]},
"mark": {"type": "point", "shape": "M0,-1 L0.9,-0.05 L0.42,-0.05 L0.42,1 L-0.42,1 L-0.42,-0.05 L-0.9,-0.05 Z", "size": 324, "filled": true, "fill": "#ffffff", "stroke": "#44cc44", "strokeWidth": 1.5, "opacity": 1},
"encoding": {
"x": {"datum": 131.0, "type": "quantitative", "title": null},
"y": {"datum": 1.31453, "type": "quantitative", "title": null}
}
},
{
"data": {"values": [{}]},
"mark": {"type": "rule", "color": "#8a2be2", "strokeWidth": 5},
"encoding": {"x": {"datum": 90, "type": "quantitative", "title": null}}
},
{
"data": {"values": [{}]},
"mark": {"type": "rect", "fill": "#dd0000", "clip": false},
"encoding": {
"x": {"datum": 145.375, "type": "quantitative", "title": null},
"x2": {"datum": 150.3},
"y": {"datum": 1.31416, "type": "quantitative", "title": null},
"y2": {"datum": 1.31380}
}
},
{
"data": {"values": [{}]},
"mark": {"type": "text", "text": "1.31398", "color": "#ffffff", "align": "left", "baseline": "middle", "font": "Liberation Sans", "fontSize": 9.5, "clip": false},
"encoding": {
"x": {"datum": 145.69, "type": "quantitative", "title": null},
"y": {"datum": 1.31398, "type": "quantitative", "title": null}
}
},
{
"data": {"values": [{}]},
"mark": {"type": "rect", "fill": "#8a2be2", "clip": false},
"encoding": {
"x": {"datum": 85.06, "type": "quantitative", "title": null},
"x2": {"datum": 94.81},
"y": {"datum": 1.31132, "type": "quantitative", "title": null},
"y2": {"datum": 1.31082}
}
},
{
"data": {"values": [{}]},
"mark": {"type": "text", "text": "2025.10.29 18:00", "color": "#ffffff", "align": "center", "baseline": "middle", "font": "Liberation Sans", "fontSize": 9.5, "clip": false},
"encoding": {
"x": {"datum": 89.94, "type": "quantitative", "title": null},
"y": {"datum": 1.31107, "type": "quantitative", "title": null}
}
}
]
}
